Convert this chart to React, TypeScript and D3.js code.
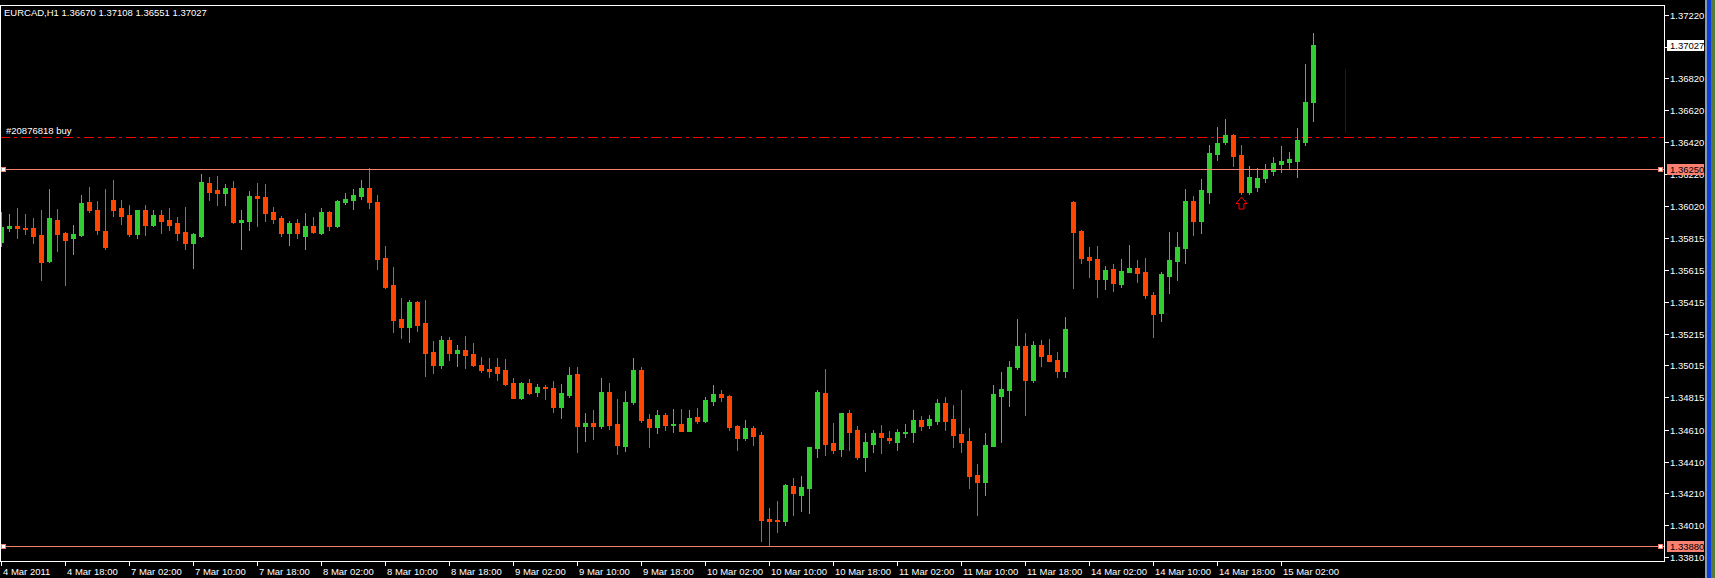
import React from "react";
import * as d3 from "d3";

// ---------------- DATA ----------------
const chartTitle = "EURCAD,H1  1.36670 1.37108 1.36551 1.37027";

const openP = [
  1.35793, 1.35879, 1.35891, 1.35879, 1.35877, 1.35835, 1.35673, 1.35929, 1.35846, 1.35818,
  1.35835, 1.36042, 1.35992, 1.3586, 1.36055, 1.36005, 1.35961, 1.35841, 1.35992, 1.35898,
  1.35961, 1.35929, 1.3591, 1.35854, 1.35785, 1.35829, 1.36162, 1.36118, 1.36099, 1.36131,
  1.35917, 1.35923, 1.3608, 1.36074, 1.3598, 1.35942, 1.35847, 1.3591, 1.35829, 1.35891,
  1.35847, 1.3598, 1.35891, 1.36042, 1.36055, 1.3608, 1.36131, 1.36042, 1.3569, 1.3552,
  1.35307, 1.35256, 1.35413, 1.35281, 1.35099, 1.35017, 1.35174, 1.35093, 1.35112, 1.35086,
  1.35017, 1.34992, 1.35005, 1.34986, 1.34904, 1.3481, 1.34904, 1.34847, 1.34879, 1.34872,
  1.34753, 1.34828, 1.34961, 1.34633, 1.34652, 1.34633, 1.34847, 1.34646, 1.34508, 1.34784,
  1.34986, 1.34678, 1.34627, 1.34703, 1.3464, 1.34646, 1.34602, 1.3469, 1.34665, 1.34791,
  1.34835, 1.34822, 1.34633, 1.34558, 1.34621, 1.34577, 1.34049, 1.34042, 1.34036, 1.34256,
  1.34199, 1.34243, 1.34495, 1.34841, 1.34527, 1.34489, 1.34715, 1.34608, 1.34438, 1.3452,
  1.34589, 1.34558, 1.34533, 1.34589, 1.34596, 1.34671, 1.3464, 1.34665, 1.34778, 1.34678,
  1.34583, 1.34539, 1.34325, 1.34281, 1.34508, 1.34822, 1.3486, 1.35005, 1.35137, 1.34923,
  1.35143, 1.3508, 1.35049, 1.34979, 1.36042, 1.3586, 1.35696, 1.35684, 1.35558, 1.35621,
  1.35527, 1.35602, 1.35627, 1.35602, 1.35457, 1.35344, 1.35577, 1.35671, 1.35753, 1.36049,
  1.35923, 1.36105, 1.36344, 1.3642, 1.36464, 1.36338, 1.36105, 1.36137, 1.36193, 1.36237,
  1.36281, 1.36294, 1.363, 1.3642, 1.3667,
];
const highP = [
  1.35981, 1.35967, 1.36003, 1.35967, 1.3594, 1.35992, 1.36124, 1.35998, 1.35856, 1.35898,
  1.36086, 1.36137, 1.36049, 1.36124, 1.36181, 1.36055, 1.36024, 1.35995, 1.36024, 1.35992,
  1.35992, 1.36005, 1.35948, 1.36011, 1.35847, 1.36219, 1.362, 1.36206, 1.36156, 1.36175,
  1.35992, 1.36112, 1.36162, 1.36156, 1.36011, 1.35954, 1.35923, 1.35936, 1.35973, 1.35948,
  1.36005, 1.35986, 1.36055, 1.36099, 1.36124, 1.36181, 1.36256, 1.36086, 1.35766, 1.35634,
  1.35439, 1.35426, 1.3542, 1.35426, 1.35168, 1.352, 1.35193, 1.35143, 1.352, 1.35155,
  1.35068, 1.35061, 1.35061, 1.35055, 1.34935, 1.3491, 1.34929, 1.34898, 1.34891, 1.34917,
  1.34898, 1.35005, 1.35005, 1.34715, 1.34734, 1.34935, 1.34904, 1.34803, 1.34854, 1.35061,
  1.35005, 1.34709, 1.34734, 1.34715, 1.3474, 1.3474, 1.34734, 1.34747, 1.34816, 1.34891,
  1.3486, 1.34828, 1.3464, 1.34671, 1.34633, 1.34596, 1.34118, 1.34162, 1.34269, 1.34306,
  1.34319, 1.34501, 1.3486, 1.34992, 1.34652, 1.34715, 1.34734, 1.34633, 1.34589, 1.34608,
  1.3464, 1.34602, 1.34615, 1.34646, 1.34734, 1.34696, 1.34703, 1.34803, 1.34816, 1.34766,
  1.3486, 1.34621, 1.34394, 1.34589, 1.34891, 1.34973, 1.35042, 1.35307, 1.35218, 1.35168,
  1.35174, 1.35181, 1.35099, 1.35319, 1.36049, 1.35866, 1.35759, 1.35766, 1.3564, 1.35652,
  1.35684, 1.35772, 1.35678, 1.3569, 1.35476, 1.35602, 1.35854, 1.35854, 1.36124, 1.3608,
  1.36187, 1.36401, 1.36514, 1.36565, 1.3647, 1.36401, 1.36269, 1.36256, 1.36281, 1.36325,
  1.36395, 1.36357, 1.36508, 1.3691, 1.37108,
];
const lowP = [
  1.35766, 1.35862, 1.35818, 1.35841, 1.35786, 1.35552, 1.35668, 1.35736, 1.3552, 1.35715,
  1.35829, 1.3598, 1.35841, 1.35749, 1.35956, 1.35904, 1.35829, 1.35816, 1.35835, 1.35891,
  1.35847, 1.35866, 1.35803, 1.35747, 1.35627, 1.35822, 1.36055, 1.36024, 1.36024, 1.3591,
  1.35747, 1.35866, 1.35891, 1.35923, 1.3591, 1.35829, 1.35772, 1.35816, 1.35747, 1.35847,
  1.35841, 1.35866, 1.35885, 1.3603, 1.35998, 1.36061, 1.36005, 1.35621, 1.35502, 1.35225,
  1.35187, 1.35162, 1.35231, 1.34948, 1.34967, 1.34998, 1.35049, 1.35011, 1.34998, 1.35011,
  1.34973, 1.34942, 1.34923, 1.34891, 1.3481, 1.34803, 1.34835, 1.34822, 1.34803, 1.34722,
  1.34684, 1.34816, 1.3447, 1.34539, 1.34552, 1.34621, 1.34615, 1.34457, 1.34476, 1.34772,
  1.34659, 1.34501, 1.34589, 1.34608, 1.34596, 1.34602, 1.34602, 1.34652, 1.34659, 1.34766,
  1.34791, 1.34608, 1.34483, 1.34545, 1.34514, 1.3391, 1.3388, 1.33967, 1.34011, 1.34074,
  1.34099, 1.34086, 1.34438, 1.34451, 1.34464, 1.34445, 1.34483, 1.34426, 1.3435, 1.3447,
  1.34464, 1.34527, 1.34483, 1.34564, 1.34533, 1.34608, 1.34621, 1.34646, 1.34608, 1.34501,
  1.3447, 1.34243, 1.34074, 1.34199, 1.34508, 1.34533, 1.34759, 1.34992, 1.34703, 1.3491,
  1.35011, 1.35042, 1.34942, 1.34942, 1.35502, 1.35659, 1.35571, 1.35445, 1.35495, 1.35483,
  1.35508, 1.35602, 1.35539, 1.35439, 1.35193, 1.35294, 1.3547, 1.35552, 1.35659, 1.35835,
  1.35847, 1.36036, 1.36307, 1.36407, 1.36269, 1.36093, 1.36093, 1.36112, 1.36168, 1.36212,
  1.36231, 1.3625, 1.362, 1.36401, 1.36551,
];
const closeP = [
  1.35887, 1.35891, 1.35879, 1.35874, 1.35829, 1.35667, 1.35942, 1.35841, 1.35803, 1.35841,
  1.36036, 1.35992, 1.35866, 1.35759, 1.35992, 1.35954, 1.35841, 1.35992, 1.35898, 1.35961,
  1.35923, 1.35898, 1.35847, 1.35785, 1.35841, 1.36168, 1.36105, 1.36099, 1.36131, 1.35917,
  1.35929, 1.3608, 1.36068, 1.35973, 1.35936, 1.35847, 1.3591, 1.35847, 1.35891, 1.35854,
  1.3598, 1.35891, 1.36049, 1.36061, 1.36086, 1.36131, 1.36042, 1.35684, 1.35508, 1.353,
  1.35256, 1.35413, 1.35269, 1.35093, 1.35017, 1.35174, 1.35093, 1.35112, 1.3508, 1.35017,
  1.34986, 1.34979, 1.34967, 1.34898, 1.3481, 1.34904, 1.34841, 1.34879, 1.34872, 1.34753,
  1.34841, 1.34954, 1.34633, 1.34652, 1.34633, 1.34847, 1.3464, 1.34514, 1.34784, 1.34986,
  1.34671, 1.34627, 1.34703, 1.3464, 1.34646, 1.34602, 1.34684, 1.34665, 1.34797, 1.34835,
  1.34816, 1.34627, 1.34558, 1.34621, 1.34571, 1.34042, 1.34036, 1.34036, 1.34262, 1.34212,
  1.3425, 1.34501, 1.34847, 1.3452, 1.34483, 1.34715, 1.34596, 1.34438, 1.34533, 1.34589,
  1.34564, 1.34545, 1.34596, 1.34596, 1.34671, 1.34633, 1.34678, 1.34778, 1.34665, 1.34577,
  1.34533, 1.34319, 1.34281, 1.34514, 1.34835, 1.34866, 1.35005, 1.35137, 1.34923, 1.35143,
  1.35074, 1.35042, 1.34979, 1.35244, 1.35854, 1.3569, 1.35678, 1.35558, 1.35615, 1.35533,
  1.35608, 1.35627, 1.35596, 1.35457, 1.35338, 1.3559, 1.35678, 1.35759, 1.36049, 1.35923,
  1.36118, 1.36351, 1.36414, 1.36464, 1.36332, 1.36105, 1.362, 1.36193, 1.3625, 1.36288,
  1.363, 1.36313, 1.36432, 1.36671, 1.37027,
];

const timeLabels = [
  "4 Mar 2011", "4 Mar 18:00", "7 Mar 02:00", "7 Mar 10:00", "7 Mar 18:00", "8 Mar 02:00",
  "8 Mar 10:00", "8 Mar 18:00", "9 Mar 02:00", "9 Mar 10:00", "9 Mar 18:00", "10 Mar 02:00",
  "10 Mar 10:00", "10 Mar 18:00", "11 Mar 02:00", "11 Mar 10:00", "11 Mar 18:00", "14 Mar 02:00",
  "14 Mar 10:00", "14 Mar 18:00", "15 Mar 02:00",
];
const barsPerLabel = 8;

const priceTicks = [
  1.3722, 1.3702, 1.3682, 1.3662, 1.3642, 1.3622, 1.3602, 1.35815, 1.35615, 1.35415,
  1.35215, 1.35015, 1.34815, 1.3461, 1.3441, 1.3421, 1.3401, 1.3381,
];
const levelLines = [1.3625, 1.3388];
const orderPrice = 1.36453;
const orderLabel = "#20876818 buy";
const bidPrice = 1.37027;
const arrowBar = 155;
const arrowPrice = 1.36074;
const vLineBar = 168;
const vLineFrom = 1.36476;
const vLineTo = 1.36879;

// ---------------- LAYOUT ----------------
const W = 1715;
const H = 578;
const plotLeft = 0;
const plotRight = 1664;
const plotTop = 5;
const plotBottom = 561;
const BULL = "#32CD32";
const BEAR = "#FF4500";
const SALMON = "#FA8072";
const FONT = "'Liberation Sans', Arial, sans-serif";
const FS = 9.5;

export default function App() {
  const n = openP.length;
  const x = d3.scaleLinear().domain([0, n - 1]).range([1, 1 + 8 * (n - 1)]);
  const y = d3.scaleLinear().domain([1.3381, 1.3722]).range([556.96, 14.77]);
  const r = (v: number) => Math.round(v);

  const candles = d3.range(n).map((i) => {
    const o = openP[i], c = closeP[i], h = highP[i], l = lowP[i];
    const up = c >= o;
    const col = up ? BULL : BEAR;
    const cx = r(x(i));
    const top = r(y(Math.max(o, c)));
    const bot = r(y(Math.min(o, c)));
    const hy = r(y(h));
    const ly = r(y(l));
    return (
      <g key={i}>
        <rect x={cx} y={hy} width={1} height={Math.max(1, ly - hy + 1)} fill={col} />
        <rect x={cx - 2} y={top} width={5} height={Math.max(1, bot - top + 1)} fill={col} />
      </g>
    );
  });

  const ax = r(x(arrowBar));
  const ay = r(y(arrowPrice));
  const arrowPath = `M${ax + 0.5},${ay} L${ax + 6},${ay + 6.5} L${ax + 3},${ay + 6.5} L${ax + 3},${ay + 12} L${ax - 2},${ay + 12} L${ax - 2},${ay + 6.5} L${ax - 5},${ay + 6.5} Z`;

  return (
    <div style={{ position: "absolute", left: 0, top: 0, width: W, height: H, background: "#000" }}>
      <svg width={W} height={H} style={{ display: "block" }} shapeRendering="crispEdges">
        <rect x={0} y={0} width={W} height={H} fill="#000" />
        <clipPath id="plotclip">
          <rect x={plotLeft + 1} y={plotTop + 1} width={plotRight - plotLeft - 1} height={plotBottom - plotTop - 1} />
        </clipPath>

        {/* order line */}
        <g clipPath="url(#plotclip)">
          <line x1={0} x2={plotRight} y1={r(y(orderPrice)) + 0.5} y2={r(y(orderPrice)) + 0.5}
            stroke="#FF0000" strokeWidth={1} strokeDasharray="10,4,3,4" />
          {candles}
          {/* horizontal level lines */}
          {levelLines.map((p, k) => (
            <line key={k} x1={0} x2={plotRight} y1={r(y(p)) + 0.5} y2={r(y(p)) + 0.5} stroke={SALMON} strokeWidth={1} />
          ))}
          <line x1={r(x(vLineBar)) + 0.5} x2={r(x(vLineBar)) + 0.5} y1={r(y(vLineTo))} y2={r(y(vLineFrom))} stroke="#0000FF" strokeWidth={1} />
          <path d={arrowPath} fill="#000" stroke="#FF0000" strokeWidth={1} shapeRendering="auto" />
        </g>
        {levelLines.map((p, k) => (
          <g key={k}>
            <rect x={1.5} y={r(y(p)) - 2 + 0.5} width={4} height={4} fill="#fff" stroke={SALMON} />
            <rect x={1658.5} y={r(y(p)) - 2 + 0.5} width={4} height={4} fill="#fff" stroke={SALMON} />
          </g>
        ))}
        <text x={6} y={r(y(orderPrice)) - 3} fill="#fff" fontFamily={FONT} fontSize={FS}>{orderLabel}</text>

        {/* frame */}
        <line x1={0} x2={plotRight + 1} y1={plotTop + 0.5} y2={plotTop + 0.5} stroke="#fff" />
        <line x1={0} x2={plotRight + 1} y1={plotBottom + 0.5} y2={plotBottom + 0.5} stroke="#fff" />
        <line x1={plotRight + 0.5} x2={plotRight + 0.5} y1={plotTop} y2={plotBottom + 1} stroke="#fff" />
        <line x1={0.5} x2={0.5} y1={plotTop} y2={plotBottom + 1} stroke="#fff" />

        {/* title */}
        <text x={4} y={16} fill="#fff" fontFamily={FONT} fontSize={FS}>{chartTitle}</text>

        {/* price axis */}
        {priceTicks.map((p, k) => {
          const yy = r(y(p));
          return (
            <g key={k}>
              <line x1={plotRight + 1} x2={plotRight + 5} y1={yy + 0.5} y2={yy + 0.5} stroke="#fff" />
              <text x={1670} y={yy + 3.5} fill="#fff" fontFamily={FONT} fontSize={FS}>{p.toFixed(5)}</text>
            </g>
          );
        })}
        {levelLines.map((p, k) => {
          const yy = r(y(p));
          return (
            <g key={k}>
              <rect x={1667} y={yy - 5} width={37} height={11} fill={SALMON} />
              <text x={1670} y={yy + 3.5} fill="#000" fontFamily={FONT} fontSize={FS}>{p.toFixed(5)}</text>
            </g>
          );
        })}
        <rect x={1667} y={r(y(bidPrice)) - 5} width={37} height={11} fill="#fff" />
        <text x={1670} y={r(y(bidPrice)) + 3.5} fill="#000" fontFamily={FONT} fontSize={FS}>{bidPrice.toFixed(5)}</text>

        {/* time axis */}
        {timeLabels.map((t, k) => {
          const xx = r(x(k * barsPerLabel));
          return (
            <g key={k}>
              <line x1={xx + 0.5} x2={xx + 0.5} y1={plotBottom} y2={plotBottom + 5} stroke="#fff" />
              <text x={xx + 2} y={575} fill="#fff" fontFamily={FONT} fontSize={FS}>{t}</text>
            </g>
          );
        })}

        {/* window border on the right */}
        <rect x={1705} y={0} width={2} height={H} fill="#7f9db9" />
        <rect x={1707} y={0} width={4} height={H} fill="#0a3ddc" />
        <rect x={1711} y={0} width={4} height={H} fill="#5a7a3a" />
      </svg>
    </div>
  );
}
